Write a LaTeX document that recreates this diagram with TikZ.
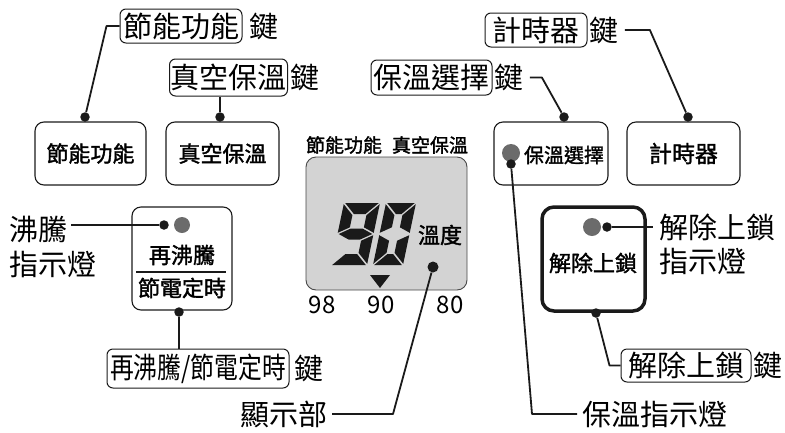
\documentclass[tikz,border=0pt]{standalone}
\usepackage{fontspec}
\setmainfont{Noto Sans CJK TC}
\newfontfamily\medfont[FakeBold=1.6]{Noto Sans CJK TC}
\usepackage{graphicx}
\usetikzlibrary{positioning}

\definecolor{lcdgrey}{HTML}{D3D3D3}
\definecolor{ledgrey}{HTML}{6B6B6B}
\definecolor{ink}{HTML}{1A1A1A}

\tikzset{
  btn/.style={draw=ink, rounded corners=9pt, line width=1.1pt, font=\fontsize{22}{22}\medfont},
  keybox/.style={draw=ink, rounded corners=6pt, line width=1pt, inner sep=1pt, font=\fontsize{29}{29}\selectfont},
  keyword/.style={inner sep=0pt, font=\fontsize{29}{29}\selectfont},
  callout/.style={inner sep=0pt, font=\fontsize{29}{29}\selectfont},
  lead/.style={draw=ink, line width=1.8pt, line join=round},
  pin/.style={circle, fill=ink, inner sep=0pt, minimum size=9.5pt},
  led/.style={circle, fill=ledgrey, inner sep=0pt, minimum size=17pt},
  lcdtext/.style={inner sep=0pt, font=\fontsize{19}{19}\medfont},
  dial/.style={inner sep=0pt, font=\fontsize{24}{24}\selectfont}
}

% segments of one lcd digit, width \dw, height 62, bar 11
\newcommand{\lcda}{\fill[ink] (1.2,0) -- (\dw-1.2,0) -- (\dw-12.2,11) -- (12.2,11) -- cycle;}
\newcommand{\lcdb}{\fill[ink] (\dw,1.2) -- (\dw,29.8) -- (\dw-11,24.3) -- (\dw-11,12.2) -- cycle;}
\newcommand{\lcdc}{\fill[ink] (\dw,32.2) -- (\dw,60.8) -- (\dw-11,49.8) -- (\dw-11,37.7) -- cycle;}
\newcommand{\lcdd}{\fill[ink] (1.2,62) -- (\dw-1.2,62) -- (\dw-12.2,51) -- (12.2,51) -- cycle;}
\newcommand{\lcde}{\fill[ink] (0,32.2) -- (11,37.7) -- (11,49.8) -- (0,60.8) -- cycle;}
\newcommand{\lcdf}{\fill[ink] (0,1.2) -- (11,12.2) -- (11,24.3) -- (0,29.8) -- cycle;}
\newcommand{\lcdg}{\fill[ink] (1.2,31) -- (12.2,25.5) -- (\dw-12.2,25.5) -- (\dw-1.2,31) -- (\dw-12.2,36.5) -- (12.2,36.5) -- cycle;}

\begin{document}
\begin{tikzpicture}[x=1pt,y=-1pt]
\useasboundingbox (0,0) rectangle (785,432);

% buttons
\node[btn, minimum width=111pt, minimum height=63pt] (eco) at (90.5,153.5) {節能功能};
\node[btn, minimum width=113pt, minimum height=63pt] (vac) at (222.5,153.5) {真空保溫};
\node[btn, minimum width=114pt, minimum height=63pt] (warm) at (551,153.5) {};
\node[btn, draw=none, font=\fontsize{20}{20}\medfont] (warmlbl) at (564,155) {保溫選擇};
\node[btn, minimum width=113pt, minimum height=63pt, font=\fontsize{23}{23}\medfont] (timer) at (683.5,153.5) {計時器};
\node[btn, minimum width=100pt, minimum height=103pt] (boil) at (182,258.5) {};
\node[btn, draw=none, inner sep=0pt] (boilA) at (182,255) {再沸騰};
\node[btn, draw=none, inner sep=0pt] (boilB) at (182,288) {節電定時};
\draw[ink, line width=1.1pt] (boil.west) ++(5,13.5) -- ++(90,0);
\node[btn, line width=3.5pt, rounded corners=12pt, minimum width=103pt, minimum height=104pt] (unlock) at (593.5,259) {};
\node[btn, draw=none, inner sep=0pt] (unlocklbl) at (593,263) {解除上鎖};

% lamps
\node[led, minimum size=16pt] (boilled) at (182,225) {};
\node[led, minimum size=18pt] (warmled) at (511,153) {};
\node[led, minimum size=18pt] (unlockled) at (592,227) {};

% display
\node[draw=ink!80, line width=0.9pt, fill=lcdgrey, rounded corners=10pt, minimum width=161pt, minimum height=133pt] (disp) at (386.5,223.5) {};
\node[lcdtext] (ecolcd) at (344,145) {節能功能};
\node[lcdtext] (vaclcd) at (430,145) {真空保溫};
\begin{scope}[shift={(344,203)}, xslant=0.21]
  \def\dw{36}
  \lcda \lcdb \lcdc \lcdd \lcdf \lcdg
\end{scope}
\begin{scope}[shift={(386,203)}, xslant=0.21]
  \def\dw{30}
  \lcda \lcdb \lcdc \lcdd \lcde \lcdf
\end{scope}
\node[inner sep=0pt, font=\fontsize{22}{22}\medfont] (unit) at (440,235) {溫度};
\fill[ink] (370,275) -- (390,275) -- (380,288) -- cycle;
\node[dial] (d98) at (322,305) {98};
\node[dial] (d90) at (381,305) {90};
\node[dial] (d80) at (450,305) {80};

% key labels
\node[keybox, minimum width=122pt, minimum height=34pt] (ecokey) at (181,26) {節能功能};
\node[keyword, right=7pt of ecokey] (ecok) {鍵};
\node[keybox, minimum width=117pt, minimum height=37pt] (vackey) at (228.5,77.5) {真空保溫};
\node[keyword, right=2pt of vackey] (vack) {鍵};
\node[keybox, minimum width=121pt, minimum height=35pt] (warmkey) at (431.5,77.5) {保溫選擇};
\node[keyword, right=2pt of warmkey] (warmk) {鍵};
\node[keybox, minimum width=102pt, minimum height=34pt] (timerkey) at (536,30) {計時器};
\node[keyword, right=2pt of timerkey] (timerk) {鍵};
\node[keybox, minimum width=182pt, minimum height=39pt] (boilkey) at (198,368.5) {\scalebox{0.82}[1]{再沸騰/節電定時}};
\node[keyword, right=5pt of boilkey] (boilk) {鍵};
\node[keybox, minimum width=130pt, minimum height=33pt] (ulkey) at (686,365.5) {解除上鎖};
\node[keyword, right=2pt of ulkey] (ulk) {鍵};

% callouts
\node[callout, anchor=west] (boiltxt) at (9,229) {沸騰};
\node[callout, anchor=west] (boiltxt2) at (9,264) {指示燈};
\node[callout, anchor=west] (ultxt) at (659,227) {解除上鎖};
\node[callout, anchor=west] (ultxt2) at (659,261) {指示燈};
\node[callout, anchor=west] (warmtxt) at (582,414) {保溫指示燈};
\node[callout, anchor=east] (disptxt) at (328,414) {顯示部};

% pins
\node[pin] (ecopin) at (85,117) {};
\node[pin] (vacpin) at (220,117) {};
\node[pin] (warmpin) at (564,117) {};
\node[pin] (timerpin) at (688,117) {};
\node[pin] (boilpin) at (164,225) {};
\node[pin] (boilbpin) at (179,312) {};
\node[pin] (warmledpin) at (511,164) {};
\node[pin] (ulpin) at (607,227) {};
\node[pin] (ulbpin) at (596,313) {};
\node[pin, minimum size=11pt] (disppin) at (433,267) {};

% leaders
\draw[lead] (ecokey.west) -- ++(-13,0) -- (ecopin);
\draw[lead] (vacpin) -- (vacpin |- vackey.south);
\draw[lead] ([xshift=6pt]warmk.east) -- ++(12,0) -- (warmpin);
\draw[lead] ([xshift=6pt]timerk.east) -- ++(25,0) -- (timerpin);
\draw[lead, shorten >=4pt] (boilpin) -- (boilpin -| boiltxt.east);
\draw[lead] (boilbpin) -- (boilbpin |- boilkey.north);
\draw[lead, shorten >=6pt] (ulpin) -- (ulpin -| ultxt.west);
\draw[lead] (ulbpin) -- ([xshift=-11pt]ulkey.west) -- (ulkey.west);
\draw[lead, shorten >=5pt] (warmledpin) -- ([xshift=21pt]warmledpin |- warmtxt.west) -- (warmtxt.west);
\draw[lead, shorten >=4pt] (disppin) -- ([xshift=-40pt]disppin |- disptxt.east) -- (disptxt.east);
\end{tikzpicture}
\end{document}
